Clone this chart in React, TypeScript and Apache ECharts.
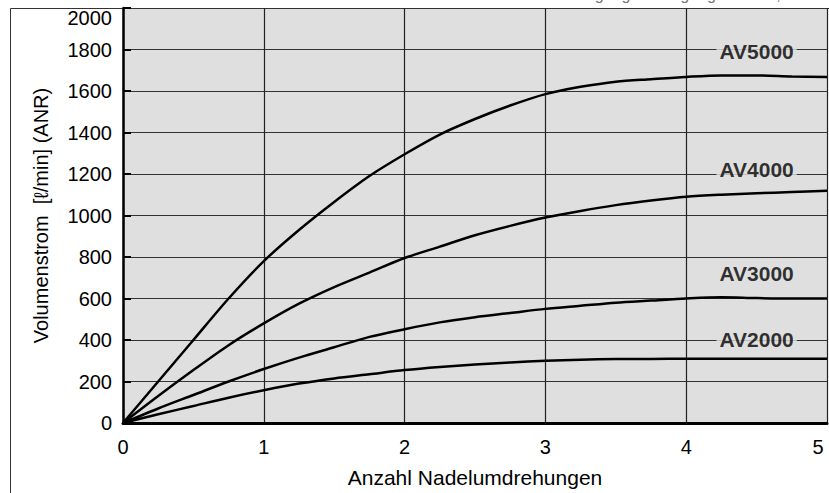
import React, { useEffect, useRef } from "react";
import * as echarts from "echarts";

const turns = [0, 0.25, 0.5, 0.75, 1, 1.25, 1.5, 1.75, 2, 2.25, 2.5, 2.75, 3, 3.25, 3.5, 3.75, 4, 4.25, 4.5, 4.75, 5];
const av5000 = [0, 200, 400, 600, 780, 930, 1065, 1190, 1295, 1390, 1465, 1530, 1585, 1620, 1645, 1657, 1668, 1675, 1675, 1670, 1668];
const av4000 = [0, 130, 255, 375, 480, 575, 655, 725, 795, 850, 905, 950, 990, 1022, 1050, 1072, 1090, 1100, 1107, 1113, 1119];
const av3000 = [0, 70, 135, 200, 260, 315, 365, 415, 452, 485, 510, 530, 550, 565, 580, 590, 600, 606, 602, 600, 600];
const av2000 = [0, 42, 82, 122, 158, 190, 215, 235, 255, 270, 282, 292, 300, 305, 308, 309, 310, 310, 310, 310, 310];
const seriesNames = ["AV5000", "AV4000", "AV3000", "AV2000"];
const labelX = [4.5, 4.5, 4.5, 4.5];
const labelY = [1789, 1223, 719, 403];
const yTicks = [0, 200, 400, 600, 800, 1000, 1200, 1400, 1600, 1800, 2000];
const xTicks = [0, 1, 2, 3, 4, 5];

const FONT = "Liberation Sans, Arial, sans-serif";

export default function App() {
  const ref = useRef<HTMLDivElement>(null);
  useEffect(() => {
    if (!ref.current) return;
    const chart = echarts.init(ref.current, null, { renderer: "svg" });
    const all = [av5000, av4000, av3000, av2000];
    const lineSeries = all.map((arr, i) => ({
      type: "line",
      name: seriesNames[i],
      data: turns.map((t, j) => [t, arr[j]]),
      showSymbol: false,
      smooth: 0.3,
      lineStyle: { color: "#000", width: 2.5 },
      z: 3,
    }));
    chart.setOption({
      animation: false,
      backgroundColor: "#fff",
      graphic: [
        {
          type: "rect",
          shape: { x: 10.5, y: 8.5, width: 830, height: 500 },
          style: { fill: "none", stroke: "#333", lineWidth: 1 },
          z: -10,
        },
        {
          type: "text",
          right: 2,
          top: -14,
          style: { text: "Prüfbedingungen: Eingangsdruck 0,5 MPa", fill: "#777", font: "16px " + FONT },
        },
      ],
      grid: { left: 123, right: 2, top: 8, bottom: 68, show: true, backgroundColor: "#dfdfdf", borderWidth: 0 },
      xAxis: {
        type: "value",
        min: 0,
        max: 5,
        interval: 1,
        name: "Anzahl Nadelumdrehungen",
        nameLocation: "middle",
        nameGap: 44,
        nameTextStyle: { color: "#000", fontSize: 21, fontFamily: FONT },
        axisLine: { show: true, onZero: false, lineStyle: { color: "#000", width: 3 } },
        axisTick: { show: false },
        axisLabel: {
          color: "#000",
          fontSize: 20,
          fontFamily: FONT,
          margin: 14,
          formatter: (v: number) => (v === 5 ? "{e|" + v + "}" : String(v)),
          rich: { e: { fontSize: 20, fontFamily: FONT, color: "#000", padding: [0, 18, 0, 0] } },
        },
        splitLine: { show: true, lineStyle: { color: "#222", width: 1.2 } },
      },
      yAxis: {
        type: "value",
        min: 0,
        max: 2000,
        interval: 200,
        name: "Volumenstrom  [ℓ/min] (ANR)",
        nameLocation: "middle",
        nameGap: 72,
        nameTextStyle: { color: "#000", fontSize: 20, fontFamily: FONT },
        axisLine: { show: true, onZero: false, lineStyle: { color: "#000", width: 2.5 } },
        axisTick: { show: true, inside: true, length: 8, lineStyle: { color: "#000", width: 2 } },
        axisLabel: {
          color: "#000",
          fontSize: 20,
          fontFamily: FONT,
          margin: 11,
          formatter: (v: number) => (v === 2000 ? "{t|" + v + "}" : String(v)),
          rich: { t: { fontSize: 20, fontFamily: FONT, color: "#000", padding: [20, 0, 0, 0] } },
        },
        splitLine: { show: true, lineStyle: { color: "#333", width: 1.2 } },
      },
      series: [
        ...lineSeries,
        {
          type: "scatter",
          symbolSize: 0,
          z: 5,
          data: seriesNames.map((n, i) => ({ value: [labelX[i], labelY[i]], name: n })),
          label: {
            show: true,
            position: "inside",
            formatter: (p: any) => p.name,
            color: "#000",
            fontSize: 21,
            fontWeight: "bold",
            fontFamily: FONT,
            backgroundColor: "#dfdfdf",
            padding: [1, 3],
          },
        },
      ],
    });
    return () => chart.dispose();
  }, []);
  return <div ref={ref} style={{ width: 829, height: 493, position: "absolute", left: 0, top: 0 }} />;
}
